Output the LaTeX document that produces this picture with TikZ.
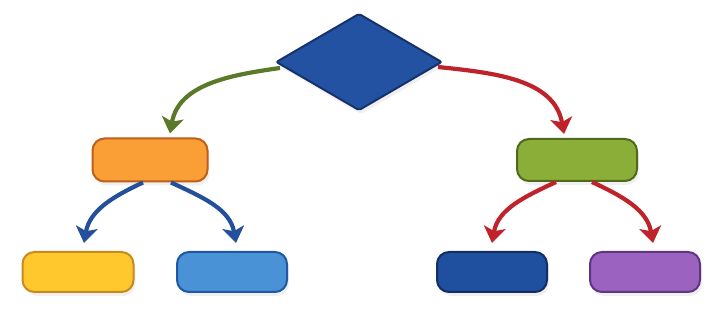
\documentclass[tikz,border=0pt]{standalone}
\usepackage{tikz}
\usetikzlibrary{arrows.meta,shapes.geometric,shadows}
\usepackage{xcolor}
\definecolor{decblue}{HTML}{2452A3}
\definecolor{decedge}{HTML}{15326C}
\definecolor{orngfill}{HTML}{FA9F35}
\definecolor{orngedge}{HTML}{BE6019}
\definecolor{yelfill}{HTML}{FFC82D}
\definecolor{yeledge}{HTML}{C88A1C}
\definecolor{skyfill}{HTML}{4A92D6}
\definecolor{skyedge}{HTML}{1E58A4}
\definecolor{grnfill}{HTML}{8AAE38}
\definecolor{grnedge}{HTML}{4E6A1C}
\definecolor{navyfill}{HTML}{1F4F9F}
\definecolor{navyedge}{HTML}{122E64}
\definecolor{purpfill}{HTML}{9B63BF}
\definecolor{purpedge}{HTML}{5D3580}
\definecolor{arrgreen}{HTML}{5A7A2A}
\definecolor{arrred}{HTML}{C0222B}
\definecolor{arrblue}{HTML}{24509A}
\tikzset{
  basebox/.style={
    rounded corners=12pt,
    line width=2pt,
    minimum width=110pt,
    minimum height=40pt,
    inner sep=0pt,
    drop shadow={opacity=0.12,shadow xshift=2pt,shadow yshift=-4pt}
  },
  orngbox/.style={basebox, draw=orngedge, fill=orngfill, minimum width=115pt, minimum height=43pt},
  grnbox/.style={basebox, draw=grnedge, fill=grnfill, minimum width=120pt, minimum height=42pt},
  yelbox/.style={basebox, draw=yeledge, fill=yelfill, minimum width=111pt},
  skybox/.style={basebox, draw=skyedge, fill=skyfill},
  navybox/.style={basebox, draw=navyedge, fill=navyfill},
  purpbox/.style={basebox, draw=purpedge, fill=purpfill},
  decbox/.style={
    diamond,
    draw=decedge,
    fill=decblue,
    line width=2pt,
    rounded corners=2pt,
    inner sep=0pt,
    minimum width=166pt,
    minimum height=97pt,
    drop shadow={opacity=0.12,shadow xshift=2pt,shadow yshift=-4pt}
  },
  arrow/.style={
    -{Stealth[length=16pt,width=22pt,inset=4pt]},
    line width=4.2pt
  }
}
\begin{document}
\begin{tikzpicture}[x=1pt,y=1pt]
\useasboundingbox (0,0) rectangle (721,-323);
% top level
\node[decbox] (dec) at (359,-62) {};
\node[orngbox] (orng) at (150,-160) {};
\node[grnbox] (grn) at (577,-160) {};
% leaves
\node[yelbox] (yel) at (78,-272) {};
\node[skybox] (sky) at (232,-272) {};
\node[navybox] (navy) at (492,-272) {};
\node[purpbox] (purp) at (645,-272) {};
% connectors
\draw[arrow, arrgreen] ([xshift=5pt,yshift=-6pt]dec.west) to[out=188,in=80] ([xshift=20pt,yshift=4pt]orng.north);
\draw[arrow, arrred] ([xshift=-5pt,yshift=-5pt]dec.east) to[out=-6,in=100] ([xshift=-13pt,yshift=4pt]grn.north);
\draw[arrow, arrblue] ([xshift=-7pt]orng.south) to[out=205,in=80] ([xshift=6pt,yshift=8pt]yel.north);
\draw[arrow, arrblue] ([xshift=21pt]orng.south) to[out=-25,in=100] ([xshift=4pt,yshift=8pt]sky.north);
\draw[arrow, arrred] ([xshift=-21pt]grn.south) to[out=205,in=80] ([yshift=8pt]navy.north);
\draw[arrow, arrred] ([xshift=15pt]grn.south) to[out=-25,in=100] ([xshift=8pt,yshift=8pt]purp.north);
\end{tikzpicture}
\end{document}
